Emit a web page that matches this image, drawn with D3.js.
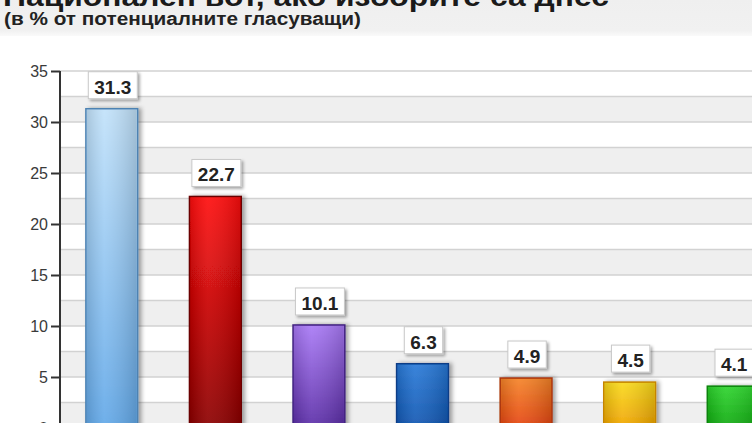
<!DOCTYPE html>
<html>
<head>
<meta charset="utf-8">
<script src="https://cdn.jsdelivr.net/npm/d3@7"></script>
<style>
html,body{margin:0;padding:0;background:#fff;overflow:hidden;}
svg{display:block;font-family:"Liberation Sans",Arial,sans-serif;}
</style>
</head>
<body>
<svg id="chart" width="752" height="423"></svg>
<script>
const titleText = "Национален вот, ако изборите са днес";
const subtitleText = "(в % от потенциалните гласуващи)";
const categories = ["p1","p2","p3","p4","p5","p6","p7"];
const values = [31.3, 22.7, 10.1, 6.3, 4.9, 4.5, 4.1];
const labels = ["31.3","22.7","10.1","6.3","4.9","4.5","4.1"];
const tickValues = [0,5,10,15,20,25,30,35];
const gridValues = [0,2.5,5,7.5,10,12.5,15,17.5,20,22.5,25,27.5,30,32.5,35];
const barTop = ["#c2e2fa","#ff0a0a","#a97af6","#2a7ad8","#f58428","#f9da1c","#2ed42e"];
const barBottom = ["#62a8e8","#8a0000","#5a2ca6","#0f55b0","#e4420e","#f0a200","#0ea80e"];
const barStroke = ["#4d82b2","#6a0000","#40207e","#0a3c86","#a8340a","#c48400","#0a820a"];

const svg = d3.select("#chart");
const W = 752, H = 423;

const y = d3.scaleLinear().domain([0,35]).range([428,71]);
const x = d3.scaleBand().domain(categories).range([60,785]).paddingInner(0.5).paddingOuter(0.25);

const defs = svg.append("defs");
categories.forEach((c,i)=>{
  const g = defs.append("linearGradient").attr("id","g"+i).attr("x1",0).attr("y1",0).attr("x2",0).attr("y2",1);
  g.append("stop").attr("offset","0%").attr("stop-color",barTop[i]);
  g.append("stop").attr("offset","100%").attr("stop-color",barBottom[i]);
});
const hl = defs.append("linearGradient").attr("id","hl").attr("x1",0).attr("y1",0).attr("x2",1).attr("y2",0);
hl.append("stop").attr("offset","0%").attr("stop-color","#000").attr("stop-opacity",0.12);
hl.append("stop").attr("offset","35%").attr("stop-color","#fff").attr("stop-opacity",0.08);
hl.append("stop").attr("offset","100%").attr("stop-color","#000").attr("stop-opacity",0.15);

const fs = defs.append("filter").attr("id","shadow").attr("x","-30%").attr("y","-30%").attr("width","160%").attr("height","160%");
fs.append("feDropShadow").attr("dx",3).attr("dy",0).attr("stdDeviation",2).attr("flood-color","#000").attr("flood-opacity",0.35);
const fl = defs.append("filter").attr("id","lshadow").attr("x","-30%").attr("y","-30%").attr("width","160%").attr("height","160%");
fl.append("feDropShadow").attr("dx",2).attr("dy",2).attr("stdDeviation",1.5).attr("flood-color","#000").attr("flood-opacity",0.35);

// header
const hg = defs.append("linearGradient").attr("id","hdr").attr("x1",0).attr("y1",0).attr("x2",0).attr("y2",1);
hg.append("stop").attr("offset","0%").attr("stop-color","#efefef");
hg.append("stop").attr("offset","85%").attr("stop-color","#f1f1f1");
hg.append("stop").attr("offset","100%").attr("stop-color","#fafafa");
svg.append("rect").attr("x",0).attr("y",0).attr("width",W).attr("height",36).attr("fill","url(#hdr)");

svg.append("text").attr("x",3).attr("y",6).attr("font-size",27).attr("font-weight","bold")
  .attr("fill","#1a1a1a").attr("textLength",606).attr("lengthAdjust","spacingAndGlyphs").text(titleText);
svg.append("text").attr("x",4).attr("y",25).attr("font-size",18).attr("font-weight","bold")
  .attr("fill","#222").attr("textLength",357).attr("lengthAdjust","spacingAndGlyphs").text(subtitleText);

// bands
const bandStarts = gridValues.filter(v => v % 5 === 0 && v < 35);
svg.append("g").selectAll("rect").data(bandStarts).join("rect")
  .attr("x",60).attr("width",W-60)
  .attr("y",d=>y(d+2.5)).attr("height",d=>y(d)-y(d+2.5))
  .attr("fill","#efefef");

// grid lines
svg.append("g").selectAll("line").data(gridValues).join("line")
  .attr("x1",60).attr("x2",W).attr("y1",d=>y(d)).attr("y2",d=>y(d))
  .attr("stroke","#d2d2d2").attr("stroke-width",1.5);

// bars
const bars = svg.append("g");
bars.selectAll("rect.bar").data(values).join("rect").attr("class","bar")
  .attr("x",(d,i)=>x(categories[i])).attr("width",x.bandwidth())
  .attr("y",d=>y(d)).attr("height",d=>y(0)-y(d))
  .attr("fill",(d,i)=>"url(#g"+i+")")
  .attr("stroke",(d,i)=>barStroke[i]).attr("stroke-width",1.5)
  .attr("filter","url(#shadow)");
bars.selectAll("rect.hl").data(values).join("rect").attr("class","hl")
  .attr("x",(d,i)=>x(categories[i])+1).attr("width",x.bandwidth()-2)
  .attr("y",d=>y(d)+1).attr("height",d=>y(0)-y(d))
  .attr("fill","url(#hl)");

// axis
const axis = d3.axisLeft(y).tickValues(tickValues).tickSize(9).tickPadding(3).tickFormat(d3.format("d"));
const ag = svg.append("g").attr("transform","translate(60,0)").call(axis);
ag.select(".domain").attr("stroke","#333").attr("stroke-width",2).attr("d","M0,"+y(35)+"V"+H);
ag.selectAll(".tick line").attr("stroke","#333").attr("stroke-width",2);
ag.selectAll(".tick text").attr("font-size",16).attr("fill","#3a3a3a").attr("font-family","\"Liberation Sans\",Arial,sans-serif").attr("dy","0.35em");

// labels
const lg = svg.append("g").selectAll("g").data(values).join("g")
  .attr("transform",(d,i)=>"translate("+(x(categories[i])+x.bandwidth()/2+1)+","+y(d)+")");
lg.each(function(d,i){
  const g = d3.select(this);
  const t = g.append("text").attr("text-anchor","middle").attr("y",-15)
    .attr("font-size",19).attr("font-weight","bold").attr("fill","#222").text(labels[i]);
  const w = t.node().getComputedTextLength() + 12;
  g.insert("rect","text").attr("x",-w/2).attr("y",-37).attr("width",w).attr("height",27)
    .attr("fill","#fff").attr("stroke","#c8c8c8").attr("stroke-width",1).attr("filter","url(#lshadow)");
});
</script>
</body>
</html>
